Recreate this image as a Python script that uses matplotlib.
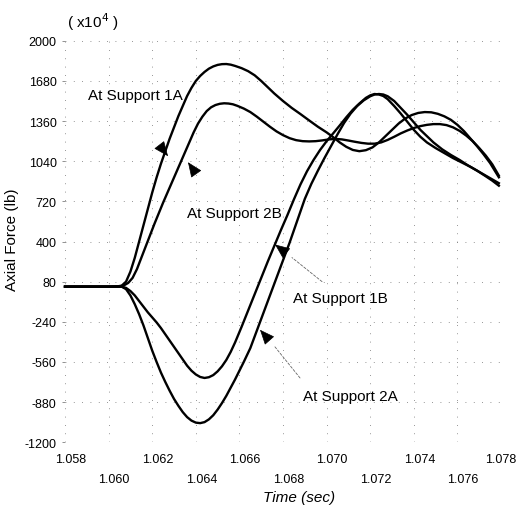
import matplotlib
matplotlib.use('Agg')
import matplotlib.pyplot as plt
import matplotlib.transforms as mtransforms

plt.rcParams['font.family'] = ['Liberation Sans', 'DejaVu Sans']

# values (time in sec, axial force in units of 1e4 lb)
t_1a = [1.058, 1.0600, 1.0604, 1.0606, 1.0608, 1.0610, 1.0612, 1.0614, 1.0616, 1.0618,
        1.0620, 1.0622, 1.0624, 1.0626, 1.0628, 1.0630, 1.0632, 1.0634, 1.0636, 1.0638,
        1.0640, 1.0642, 1.0644, 1.0646, 1.0648, 1.0650, 1.0652, 1.0654, 1.0656, 1.0658,
        1.0661, 1.0664, 1.0667, 1.0670, 1.0673, 1.0676, 1.0680, 1.0684, 1.0688, 1.0692,
        1.0696, 1.0700, 1.0703, 1.0706, 1.0709, 1.0712, 1.0715, 1.0718, 1.0721, 1.0724,
        1.0727, 1.0730, 1.0733, 1.0736, 1.0739, 1.0742, 1.0745, 1.0748, 1.0751, 1.0754,
        1.0757, 1.0760, 1.0763, 1.0766, 1.0769, 1.0772, 1.0775, 1.0779]
f_1a = [40, 40, 42, 48, 80, 160, 270, 400, 530, 660,
        790, 910, 1020, 1120, 1220, 1310, 1400, 1480, 1560, 1625,
        1680, 1720, 1752, 1778, 1796, 1808, 1814, 1815, 1810, 1800,
        1782, 1758, 1725, 1680, 1630, 1580, 1520, 1465, 1416, 1365,
        1315, 1270, 1232, 1190, 1155, 1130, 1120, 1128, 1150, 1190,
        1240, 1290, 1340, 1380, 1408, 1425, 1432, 1430, 1418, 1398,
        1370, 1330, 1280, 1220, 1160, 1095, 1025, 912]

t_2b = [1.058, 1.0600, 1.0605, 1.0607, 1.0609, 1.0611, 1.0613, 1.0615, 1.0617, 1.0619,
        1.0621, 1.0623, 1.0625, 1.0627, 1.0629, 1.0631, 1.0633, 1.0635, 1.0637, 1.0639,
        1.0641, 1.0643, 1.0645, 1.0647, 1.0649, 1.0651, 1.0653, 1.0655, 1.0657, 1.0659,
        1.0662, 1.0665, 1.0668, 1.0671, 1.0674, 1.0677, 1.0680, 1.0683, 1.0686, 1.0689,
        1.0692, 1.0695, 1.0698, 1.0701, 1.0704, 1.0707, 1.0710, 1.0713, 1.0716, 1.0719,
        1.0722, 1.0725, 1.0728, 1.0731, 1.0734, 1.0737, 1.0740, 1.0743, 1.0746, 1.0749,
        1.0752, 1.0755, 1.0758, 1.0761, 1.0764, 1.0767, 1.0770, 1.0773, 1.0776, 1.0779]
f_2b = [40, 40, 42, 50, 70, 110, 180, 270, 360, 450,
        540, 625, 710, 790, 870, 950, 1030, 1110, 1190, 1270,
        1340, 1395, 1440, 1470, 1488, 1498, 1502, 1500, 1494, 1482,
        1460, 1432, 1395, 1355, 1315, 1278, 1248, 1224, 1208, 1200,
        1198, 1200, 1206, 1214, 1218, 1214, 1205, 1195, 1186, 1180,
        1180, 1190, 1210, 1235, 1262, 1285, 1305, 1320, 1330, 1336,
        1336, 1328, 1310, 1282, 1245, 1200, 1145, 1085, 1015, 925]

t_1b = [1.058, 1.0600, 1.0606, 1.0608, 1.0610, 1.0612, 1.0614, 1.0616, 1.0618, 1.0620,
        1.0622, 1.0624, 1.0626, 1.0628, 1.0630, 1.0632, 1.0634, 1.0636, 1.0638, 1.0640,
        1.0642, 1.0644, 1.0646, 1.0648, 1.0650, 1.0652, 1.0654, 1.0656, 1.0658, 1.0661,
        1.0664, 1.0667, 1.0670, 1.0673, 1.0676, 1.0679, 1.0682, 1.0685, 1.0688, 1.0691,
        1.0694, 1.0697, 1.0700, 1.0703, 1.0706, 1.0709, 1.0712, 1.0715, 1.0718, 1.0720,
        1.0722, 1.0724, 1.0726, 1.0728, 1.0731, 1.0734, 1.0737, 1.0740, 1.0743, 1.0746,
        1.0750, 1.0754, 1.0758, 1.0762, 1.0766, 1.0770, 1.0774, 1.0779]
f_1b = [40, 40, 40, 30, 5, -30, -75, -120, -165, -205,
        -245, -290, -340, -390, -440, -490, -540, -590, -630, -660,
        -680, -688, -682, -665, -635, -595, -544, -480, -405, -280,
        -150, -20, 110, 240, 365, 490, 610, 736, 855, 960,
        1050, 1130, 1200, 1262, 1325, 1390, 1450, 1500, 1545, 1565,
        1576, 1572, 1560, 1535, 1480, 1420, 1355, 1290, 1235, 1190,
        1145, 1105, 1065, 1030, 995, 955, 915, 865]

t_2a = [1.058, 1.0600, 1.0606, 1.0608, 1.0610, 1.0612, 1.0614, 1.0616, 1.0618, 1.0620,
        1.0622, 1.0624, 1.0626, 1.0628, 1.0630, 1.0632, 1.0634, 1.0636, 1.0638, 1.0640,
        1.0642, 1.0644, 1.0646, 1.0648, 1.0650, 1.0652, 1.0654, 1.0656, 1.0658, 1.0660,
        1.0662, 1.0665, 1.0668, 1.0671, 1.0674, 1.0677, 1.0680, 1.0683, 1.0686, 1.0690,
        1.0693, 1.0696, 1.0699, 1.0702, 1.0705, 1.0708, 1.0711, 1.0714, 1.0717, 1.0720,
        1.0722, 1.0724, 1.0726, 1.0728, 1.0731, 1.0734, 1.0737, 1.0740, 1.0743, 1.0746,
        1.0749, 1.0753, 1.0757, 1.0761, 1.0765, 1.0769, 1.0773, 1.0776, 1.0779]
f_2a = [40, 40, 40, 20, -30, -100, -180, -270, -370, -470,
        -560, -645, -720, -790, -855, -910, -960, -1000, -1028, -1044,
        -1048, -1040, -1018, -985, -940, -888, -830, -765, -700, -630,
        -560, -450, -310, -170, -30, 110, 250, 390, 540, 740,
        860, 965, 1065, 1160, 1255, 1345, 1420, 1480, 1525, 1558,
        1572, 1576, 1572, 1558, 1520, 1465, 1410, 1350, 1290, 1240,
        1190, 1135, 1090, 1050, 1005, 965, 920, 885, 845]

yticks = [-1200, -880, -560, -240, 80, 400, 720, 1040, 1360, 1680, 2000]
xticks_row1 = [1.058, 1.062, 1.066, 1.070, 1.074, 1.078]
xticks_row2 = [1.060, 1.064, 1.068, 1.072, 1.076]

fig = plt.figure(figsize=(5.16, 5.10), dpi=100)
ax = fig.add_axes([0.126, 0.131, 0.845, 0.787])

for t, f in [(t_1a, f_1a), (t_2b, f_2b), (t_1b, f_1b), (t_2a, f_2a)]:
    ax.plot(t, f, color='black', lw=1.7, clip_on=False, zorder=3)

ax.set_xlim(1.058, 1.078)
ax.set_ylim(-1200, 2000)
ax.set_yticks(yticks)
ax.set_yticklabels([str(v) for v in yticks], fontsize=9)
ax.set_xticks(xticks_row1)
ax.set_xticklabels(['%.3f' % v for v in xticks_row1], fontsize=9)
ax.set_xticks(xticks_row2, minor=True)
ax.set_xticklabels(['%.3f' % v for v in xticks_row2], minor=True, fontsize=9)
ax.tick_params(axis='x', which='major', length=0, pad=8)
ax.tick_params(axis='x', which='minor', length=0, pad=22)
ax.tick_params(axis='y', length=2, width=0.6, color='0.5', pad=4)
# the printed x labels sit a little right of their grid lines (except the last one)
shift = mtransforms.ScaledTranslation(4 / 72, 0, fig.dpi_scale_trans)
for lab in ax.get_xticklabels(which='both'):
    if lab.get_text() != '1.078':
        lab.set_transform(lab.get_transform() + shift)
for s in ax.spines.values():
    s.set_visible(False)
ax.grid(True, which='both', color='0.45', lw=0.6, linestyle=(0, (1, 9)))

fig.text(0.18, 0.957, r'( x10$^4$ )', fontsize=11, ha='center', va='center')
fig.text(0.58, 0.024, 'Time (sec)', fontsize=11, style='italic', ha='center', va='center')
fig.text(0.024, 0.53, 'Axial Force (lb)', fontsize=11, rotation=90, ha='center', va='center')

# labels with pointers
ax.text(1.06121, 1568, 'At Support 1A', fontsize=11, ha='center', va='center')
ax.text(1.06575, 624, 'At Support 2B', fontsize=11, ha='center', va='center')
ax.text(1.07061, -48, 'At Support 1B', fontsize=11, ha='center', va='center')
ax.text(1.07107, -832, 'At Support 2A', fontsize=11, ha='center', va='center')

head = dict(arrowstyle='-|>,head_length=0.95,head_width=0.4', mutation_scale=10,
            color='black', lw=0.5, shrinkA=0, shrinkB=0)
thin = dict(arrowstyle='-', color='0.4', lw=0.6, linestyle=(0, (3, 2)), shrinkA=0, shrinkB=0)

ax.annotate('', xy=(1.062725, 1080), xytext=(1.06236, 1162), arrowprops=head)
ax.annotate('', xy=(1.063642, 1032), xytext=(1.063986, 947), arrowprops=head)
ax.annotate('', xy=(1.067633, 376), xytext=(1.068106, 313), arrowprops=head)
ax.annotate('', xy=(1.06841, 272), xytext=(1.06979, 80), arrowprops=thin)
ax.annotate('', xy=(1.066945, -304), xytext=(1.06734, -382), arrowprops=head)
ax.annotate('', xy=(1.06763, -440), xytext=(1.06878, -688), arrowprops=thin)

fig.savefig('out.png', dpi=100)
